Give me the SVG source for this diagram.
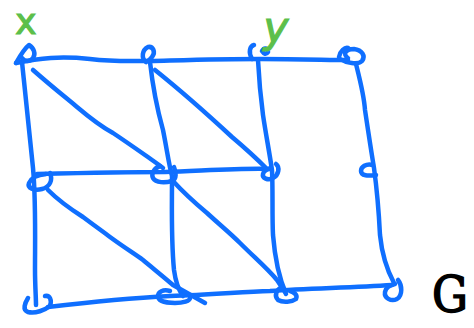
<svg xmlns="http://www.w3.org/2000/svg" width="474" height="328" viewBox="0 0 474 328">
<style>
.e{fill:none;stroke:#0f6fff;stroke-width:4.5;stroke-linecap:round;stroke-linejoin:round}
.n{fill:none;stroke:#0f6fff;stroke-width:4.5;stroke-linecap:round;stroke-linejoin:round}
.lbl{font-family:"DejaVu Sans","Liberation Sans",sans-serif;fill:#5cbf4a;stroke:#5cbf4a;stroke-width:1.2}
.g{font-family:"DejaVu Serif","Liberation Serif",serif;fill:#000;stroke:#000;stroke-width:1.5}
</style>
<rect width="474" height="328" fill="#fff"/>
<g id="connectors">
<path class="e" d="M16,63 C40,58 60,56 90,59 C115,62 130,61 150,61 C190,60 220,59 260,59 C300,59 330,60 348,60"/>
<path class="e" d="M37,174 C80,173 130,172 165,172 C200,171 240,168 270,169"/>
<path class="e" d="M48,307 C90,302 130,298 170,296 C210,295 240,292 270,291 C310,288 350,288 392,285"/>
<path class="e" d="M22,62 C26,100 30,140 33,168 C36,200 35,240 35,270 C35,285 36,298 36,305"/>
<path class="e" d="M150,62 C152,80 156,105 163,130 C167,150 169,165 172,176 C172,210 171,240 174,270 C176,285 180,292 183,296"/>
<path class="e" d="M258,60 C259,80 261,100 263,115 C266,135 269,150 272,170 C273,190 272,215 273,235 C275,260 280,280 286,294"/>
<path class="e" d="M356,64 C360,80 364,95 365,110 C368,130 371,150 374,168 C377,190 379,215 380,235 C382,255 387,270 394,283"/>
<path class="e" d="M33,70 C50,85 65,97 77,107 C90,118 100,126 113,133 C125,141 135,148 145,155 C152,160 158,164 163,168"/>
<path class="e" d="M155,70 C180,90 205,112 232,137 C245,148 256,158 266,168"/>
<path class="e" d="M48,190 C60,202 72,210 83,217 C95,226 102,231 110,237 C125,248 135,254 143,260 C155,270 165,278 173,285 L205,303"/>
<path class="e" d="M172,180 C183,192 195,203 207,213 C220,225 230,233 240,243 C255,258 267,268 277,280 L285,292"/>
</g>
<g id="n1"><path class="n" d="M16,63 C20,56 25,48 29,45 C34,48 36,54 33,58 C30,62 25,62 22,58"/></g>
<g id="n2"><path class="n" d="M146,62 C141,58 142,50 148,47 C153,46 156,52 152,57 C150,60 148,61 146,62"/></g>
<g id="n3"><path class="n" d="M252,59 C248,52 250,46 254,45 M262,51 C264,47 268,48 268,52 C266,55 264,54 262,51"/></g>
<g id="n4"><path class="n" d="M339,57 C340,51 345,47 348,48 M340,59 C346,63 358,65 362,61 C366,56 362,50 354,49 C346,49 342,54 348,58"/></g>
<g id="n5"><path class="n" d="M50,173 C53,180 50,187 42,189 C34,191 27,188 29,183 C31,178 37,175 46,174"/></g>
<g id="n6"><path class="n" d="M160,166 C154,168 151,174 153,178 C156,183 165,183 172,181 C177,179 176,172 174,167"/></g>
<g id="n7"><path class="n" d="M276,164 C280,167 279,175 273,178 C268,181 262,178 263,174 C264,170 268,169 271,168"/></g>
<g id="n8"><path class="n" d="M373,165 C366,163 361,167 361,171 C361,176 368,176 376,175"/></g>
<g id="n9"><path class="n" d="M28,298 C25,303 22,310 28,312 C35,314 45,310 50,306 C52,300 50,295 45,296"/></g>
<g id="n10"><path class="n" d="M170,291 C163,289 158,292 158,296 C158,301 166,303 175,303 C183,303 190,301 190,298"/></g>
<g id="n11"><path class="n" d="M283,287 C276,289 274,296 278,300 C283,303 292,302 296,299 C298,295 294,292 290,291"/></g>
<g id="n12"><path class="n" d="M398,280 C402,285 403,295 397,299 C391,302 384,298 385,292 C386,287 390,285 395,284"/></g>
<text class="lbl" x="26" y="34" font-size="36" text-anchor="middle">x</text>
<text class="lbl" x="276" y="42" font-size="42" font-style="italic" text-anchor="middle">y</text>
<text class="g" x="432" y="312" font-size="50" textLength="36" lengthAdjust="spacingAndGlyphs">G</text>
</svg>
